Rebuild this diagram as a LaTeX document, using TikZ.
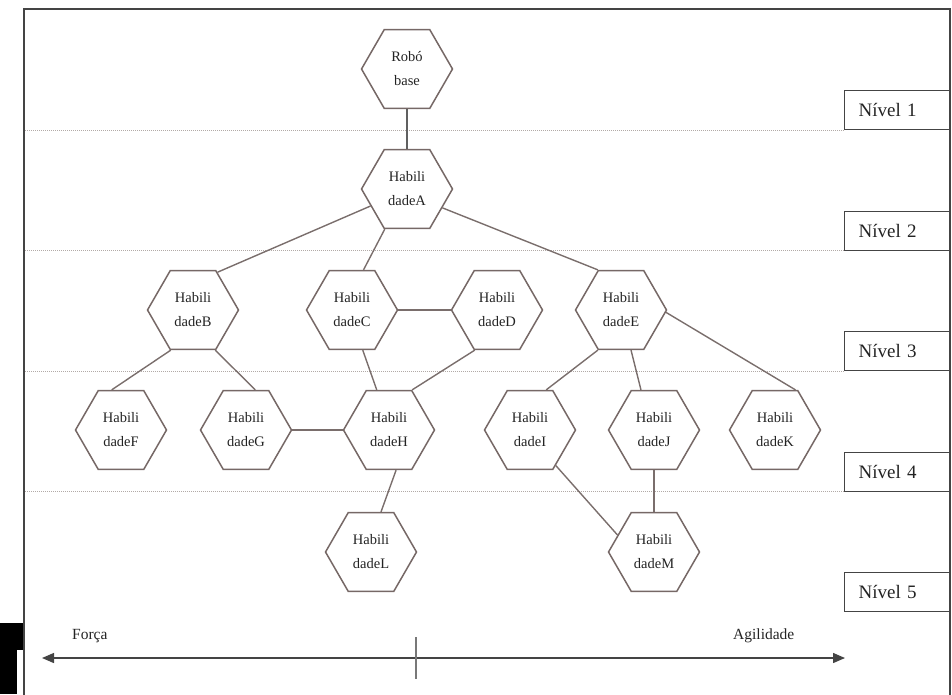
\documentclass[tikz,border=0pt]{standalone}
\usepackage{fontspec}
\setmainfont{Liberation Serif}
\usetikzlibrary{shapes.geometric,arrows.meta}

\definecolor{hexline}{RGB}{118,104,102}
\definecolor{linkline}{RGB}{122,110,108}
\definecolor{framegray}{RGB}{68,68,68}
\definecolor{inkgray}{RGB}{35,35,35}
\definecolor{rulegray}{RGB}{178,170,167}
\definecolor{tickgray}{RGB}{120,120,120}

\begin{document}
\begin{tikzpicture}[x=1pt,y=-1pt,
  skill/.style={regular polygon, regular polygon sides=6, minimum size=91pt,
    inner sep=0pt, draw=hexline, line width=1.5pt, fill=white, text=inkgray,
    align=center, font=\fontsize{14.5}{24}\selectfont},
  link/.style={draw=linkline, line width=1.4pt},
  stem/.style={draw=framegray!85, line width=1.4pt},
  levelbox/.style={draw=framegray, line width=1.3pt, anchor=north west,
    minimum height=39pt, inner xsep=14pt, inner ysep=0pt, text width=78pt,
    align=left, text=inkgray, font=\fontsize{19}{22}\selectfont},
  levelrule/.style={draw=rulegray, line width=1pt, dash pattern=on 1pt off 1pt},
  axislabel/.style={text=inkgray, font=\fontsize{15.5}{18}\selectfont, inner sep=0pt},
  axisline/.style={draw=framegray, line width=1.4pt,
    {Triangle[length=12pt,width=10pt]}-{Triangle[length=12pt,width=10pt]}},
  tickline/.style={draw=tickgray, line width=2pt},
]
\useasboundingbox (0,0) rectangle (952,694);
\clip (0,0) rectangle (952,694);

% corner block at the lower left
\fill[black] (0,623) rectangle (22.5,694);
\fill[white] (17,650) rectangle (22.5,694);

% outer frame
\draw[framegray, line width=2pt] (23.5,700) -- (23.5,8.5) -- (949.5,8.5) -- (949.5,700);
\coordinate (frameL) at (24.5,0);

% level labels and their separating rules
\node[levelbox] (lv1) at (844,90)    {Nível 1};
\node[levelbox] (lv2) at (844,210.5) {Nível 2};
\node[levelbox] (lv3) at (844,331)   {Nível 3};
\node[levelbox] (lv4) at (844,451.5) {Nível 4};
\node[levelbox] (lv5) at (844,572)   {Nível 5};
\foreach \l in {lv1,lv2,lv3,lv4}
  \draw[levelrule] (\l.south west) -- (\l.south west -| frameL);

% skill tree
\node[skill] (R) at (407,69)  {Robó\\base};
\node[skill] (A) at (407,189) {Habili\\dadeA};
\node[skill] (B) at (193,310) {Habili\\dadeB};
\node[skill] (C) at (352,310) {Habili\\dadeC};
\node[skill] (D) at (497,310) {Habili\\dadeD};
\node[skill] (E) at (621,310) {Habili\\dadeE};
\node[skill] (F) at (121,430) {Habili\\dadeF};
\node[skill] (G) at (246,430) {Habili\\dadeG};
\node[skill] (H) at (389,430) {Habili\\dadeH};
\node[skill] (I) at (530,430) {Habili\\dadeI};
\node[skill] (J) at (654,430) {Habili\\dadeJ};
\node[skill] (K) at (775,430) {Habili\\dadeK};
\node[skill] (L) at (371,552) {Habili\\dadeL};
\node[skill] (M) at (654,552) {Habili\\dadeM};

\draw[stem] (R.-90) -- (A.90);
\draw[link] (A.205) -- (B.57);
\draw[link] (A.241) -- (C.74);
\draw[link] (A.332) -- (E.120);
\draw[link] (C.0)   -- (D.180);
\draw[link] (C.285) -- (H.107);
\draw[link] (D.241) -- (H.60);
\draw[link] (B.241) -- (F.103);
\draw[link] (B.299) -- (G.77);
\draw[link] (G.0)   -- (H.180);
\draw[link] (H.280) -- (L.76);
\draw[link] (E.240) -- (I.68);
\draw[link] (E.284) -- (J.108);
\draw[link] (E.357) -- (K.63);
\draw[link] (J.-90) -- (M.90);
\draw[link] (I.306) -- (M.155);

% strength / agility axis
\coordinate (axL) at (42,658);
\coordinate (axR) at (845,658);
\coordinate (tickT) at (416,637);
\coordinate (tickB) at (416,679);
\draw[axisline] (axL) -- (axR);
\draw[tickline] (tickT) -- (tickB);
\node[axislabel, anchor=base west] (forca) at (72,639)  {Força};
\node[axislabel, anchor=base west] (agil)  at (733,639) {Agilidade};
\end{tikzpicture}
\end{document}
